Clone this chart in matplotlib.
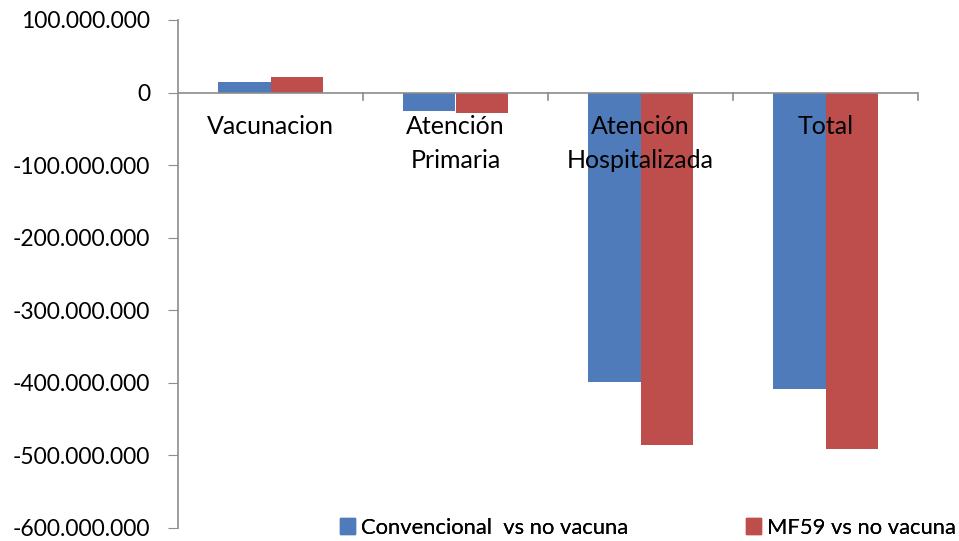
import numpy as np
from matplotlib import pyplot as plt
from matplotlib.ticker import FuncFormatter
from matplotlib.patches import Patch

categories = ['Vacunacion', 'Atención\nPrimaria', 'Atención\nHospitalizada', 'Total']
series_names = ['Convencional  vs no vacuna', 'MF59 vs no vacuna']
convencional = [14e6, -25e6, -399e6, -408e6]
mf59 = [22e6, -28e6, -485e6, -491e6]
y_ticks = [100e6, 0, -100e6, -200e6, -300e6, -400e6, -500e6, -600e6]

blue = '#4f7bba'
red = '#bd4e4c'
axis_gray = '#8c8c8c'
font = 'Lato'


def fmt_dots(v, pos):
    return f'{int(round(v)):,}'.replace(',', '.')


fig = plt.figure(figsize=(9.59, 5.41), dpi=100)
ax = fig.add_axes([178 / 959, 1 - 528 / 541, 740 / 959, 508 / 541])

x = np.arange(len(categories))
bw = 0.285
ax.bar(x - bw / 2, convencional, width=bw, color=blue, label=series_names[0])
ax.bar(x + bw / 2, mf59, width=bw, color=red, label=series_names[1])

ax.set_xlim(-0.5, len(categories) - 0.5)
ax.set_ylim(-600e6, 100e6)
ax.set_yticks(y_ticks)
ax.yaxis.set_major_formatter(FuncFormatter(fmt_dots))
ax.tick_params(axis='y', length=7, color=axis_gray, labelsize=16.5, pad=13)
for lbl in ax.get_yticklabels():
    lbl.set_fontfamily(font)
ax.set_xticks([])

for side in ['top', 'right', 'bottom']:
    ax.spines[side].set_visible(False)
ax.spines['left'].set_color(axis_gray)
ax.spines['left'].set_linewidth(1.2)

# zero line with category separators
ax.axhline(0, color=axis_gray, linewidth=1.2, zorder=3)
for b in np.arange(0.5, len(categories), 1.0):
    ax.plot([b, b], [0, -10e6], color=axis_gray, linewidth=1.2, clip_on=False)

for i, c in enumerate(categories):
    ax.text(i, -31e6, c, ha='center', va='top', fontsize=18,
            family=font, linespacing=1.55, zorder=4)

# two legend entries placed separately, like the original
leg_x = [340 / 959, 746 / 959]
for name, col, lx in zip(series_names, [blue, red], leg_x):
    lg = fig.legend(handles=[Patch(color=col)], labels=[name],
                    loc='lower left', bbox_to_anchor=(lx, 0.006),
                    frameon=False, prop={'family': font, 'size': 15.8},
                    handlelength=0.7, handleheight=0.7, handletextpad=0.25,
                    borderaxespad=0, borderpad=0)
    fig.add_artist(lg)

fig.savefig('out.png', dpi=100)
